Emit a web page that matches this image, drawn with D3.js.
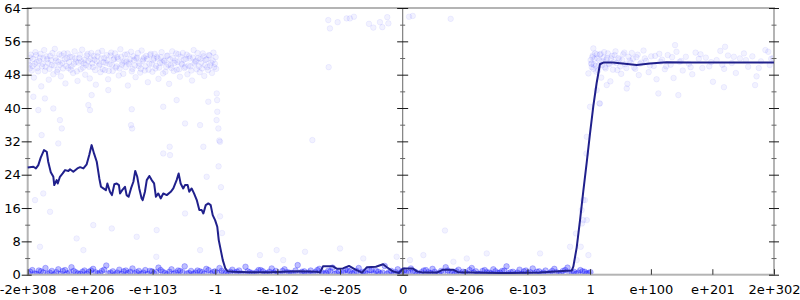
<!DOCTYPE html>
<html>
<head>
<meta charset="utf-8">
<script src="https://cdn.jsdelivr.net/npm/d3@7/dist/d3.min.js"></script>
<style>
  body { margin: 0; background: #fff; }
  svg { display: block; }
</style>
</head>
<body>
<svg id="chart" width="800" height="300"></svg>
<script>
// x values are signed biased exponents (float bit pattern position), y values are the cost
const xExtent = [-Number.MAX_VALUE, 2e302];
const xTickValues = [-Number.MAX_VALUE, -1e206, -1e103, -1, -1e-102, -1e-205, 0, 1e-206, 1e-103, 1, 1e100, 1e201, 2e302];
const xTickLabels = ['-2e+308', '-e+206', '-e+103', '-1', '-e-102', '-e-205', '0', 'e-206', 'e-103', '1', 'e+100', 'e+201', '2e+302'];
const yTickValues = [0, 8, 16, 24, 32, 40, 48, 56, 64];
const yMinorValues = [4, 12, 20, 28, 36, 44, 52, 60];

// running mean
const meanLine = [
    [-2047,25.7],[-2016,25.9],[-2002,25.5],[-1989,26.3],[-1976,28.1],[-1958,29.9],[-1943,29.5],[-1935,27.1],
    [-1921,24.6],[-1907,23.5],[-1902,21.5],[-1889,22.7],[-1883,21.9],[-1871,23.5],[-1856,24.3],[-1843,25.1],
    [-1825,24.9],[-1816,25.3],[-1798,24.7],[-1776,25.5],[-1761,25.8],[-1743,25.5],[-1725,26.5],[-1711,28.7],
    [-1698,31.1],[-1685,29.1],[-1670,27.1],[-1656,23.1],[-1647,21.1],[-1634,20.7],[-1620,20.3],[-1612,21.9],
    [-1598,19.9],[-1587,19.1],[-1574,21.7],[-1561,21.9],[-1549,21.5],[-1543,19.5],[-1531,20.3],[-1516,21.1],
    [-1507,19.1],[-1496,18.7],[-1483,20.7],[-1470,22.3],[-1460,24.9],[-1449,23.5],[-1438,20.7],[-1425,18.3],
    [-1419,17.9],[-1407,19.9],[-1397,22.7],[-1383,23.7],[-1370,22.7],[-1357,21.9],[-1347,18.7],[-1334,19.5],
    [-1321,18.3],[-1307,19.5],[-1288,19.1],[-1266,19.9],[-1252,20.7],[-1234,22.7],[-1223,24.3],[-1212,21.9],
    [-1198,20.7],[-1188,21.5],[-1174,21.5],[-1165,19.9],[-1152,20.7],[-1139,19.5],[-1124,17.9],[-1110,15.5],
    [-1097,15.5],[-1088,14.7],[-1075,16.7],[-1061,17.1],[-1048,16.7],[-1037,14.3],[-1024,13.1],[-1012,11.5],
    [-1004,8.3],[-993,5.9],[-982,3.5],[-968,1.5],[-955,0.8],[-925,0.7],[-833,0.6],[-724,0.6],[-577,0.8],
    [-468,0.7],[-451,0.5],[-435,2.0],[-380,2.0],[-358,1.4],[-326,1.5],[-293,2.1],[-260,1.3],[-222,0.5],
    [-195,1.8],[-146,1.9],[-107,2.5],[-86,1.8],[-53,0.8],[-20,0.4],[2,1.5],[56,1.5],[78,0.8],[111,0.5],
    [187,0.5],[220,1.2],[275,1.2],[302,0.6],[531,0.4],[750,0.5],[875,0.9],[923,1.0],[932,2.0],[950,6.5],
    [968,13.0],[986,20.0],[1005,27.0],[1023,34.0],[1041,40.5],[1059,46.0],[1077,50.5],[1095,50.9],
    [1148,50.9],[1278,50.3],[1350,50.7],[1441,51.0],[1569,50.9],[1660,50.9],[2027,50.9]
];

// samples: band of slow results for x <= -1
const samplesUpperLeft = [
    [-2044,51.2],[-2036,49.5],[-2030,52.8],[-2021,50.1],[-2013,47.3],[-2005,53.4],[-1998,51.0],[-1990,48.8],
    [-1981,52.1],[-1973,45.2],[-1966,50.6],[-1957,53.9],[-1949,49.9],[-1940,51.7],[-1932,46.8],[-1925,52.5],
    [-1916,50.3],[-1907,48.1],[-1899,54.2],[-1891,51.4],[-1883,49.2],[-1874,52.9],[-1866,47.6],[-1858,50.8],
    [-1849,53.1],[-1841,45.9],[-1833,51.9],[-1825,49.6],[-1816,52.3],[-1808,50.0],[-1799,48.4],[-1791,53.6],
    [-1783,51.1],[-1775,46.5],[-1766,52.0],[-1758,49.3],[-1750,54.0],[-1741,50.7],[-1733,48.0],[-1725,52.6],
    [-1716,51.3],[-1708,47.1],[-1700,53.2],[-1691,49.8],[-1683,51.6],[-1675,45.6],[-1666,52.4],[-1658,50.2],
    [-1650,48.6],[-1641,53.7],[-1633,51.0],[-1625,49.1],[-1616,52.7],[-1608,46.9],[-1600,50.5],[-1591,53.3],
    [-1583,48.9],[-1575,51.8],[-1566,49.7],[-1558,52.2],[-1550,47.8],[-1541,54.1],[-1533,50.4],[-1525,48.2],
    [-1516,52.8],[-1508,51.2],[-1500,45.4],[-1491,50.9],[-1483,53.5],[-1475,49.4],[-1466,51.5],[-1458,47.4],
    [-1450,52.1],[-1441,50.1],[-1433,48.5],[-1425,53.8],[-1416,51.7],[-1408,49.0],[-1400,52.5],[-1391,46.2],
    [-1383,50.6],[-1375,53.0],[-1366,48.7],[-1358,51.9],[-1350,49.5],[-1341,52.3],[-1333,47.0],[-1325,50.8],
    [-1316,53.4],[-1308,48.3],[-1300,51.3],[-1291,49.9],[-1283,52.6],[-1275,45.8],[-1266,50.3],[-1258,53.6],
    [-1250,48.9],[-1241,51.4],[-1233,49.2],[-1225,52.9],[-1216,47.5],[-1208,50.7],[-1200,53.2],[-1191,49.6],
    [-1183,51.8],[-1175,48.1],[-1166,52.4],[-1158,50.0],[-1150,46.6],[-1141,53.9],[-1133,51.1],[-1125,49.3],
    [-1116,52.0],[-1108,48.6],[-1100,50.9],[-1091,53.1],[-1083,47.7],[-1075,51.6],[-1066,49.8],[-1058,52.7],
    [-1050,50.2],[-1041,48.4],[-1033,53.3],[-1025,50.6],[-1018,49.4],
    [-2040,50.4],[-2032,52.1],[-2025,49.0],[-2017,51.8],[-2009,50.6],[-2001,52.7],[-1994,49.6],[-1985,51.3],
    [-1977,53.0],[-1969,50.0],[-1961,51.9],[-1953,48.9],[-1945,52.4],[-1936,50.8],[-1928,49.4],[-1920,51.5],
    [-1912,53.2],[-1903,50.2],[-1895,52.0],[-1887,48.7],[-1879,51.1],[-1870,50.4],[-1862,52.6],[-1854,49.5],
    [-1845,51.7],[-1837,50.1],[-1829,53.1],[-1821,51.0],[-1812,49.2],[-1804,52.2],[-1795,50.6],[-1787,51.9],
    [-1779,48.8],[-1770,50.9],[-1762,52.8],[-1754,51.2],[-1745,49.7],[-1737,51.6],[-1729,50.3],[-1720,53.0],
    [-1712,49.9],[-1704,51.8],[-1695,50.7],[-1687,52.5],[-1679,49.1],[-1670,51.2],[-1662,53.3],[-1654,50.5],
    [-1645,51.9],[-1637,49.3],[-1629,52.0],[-1620,50.8],[-1612,51.4],[-1604,48.9],[-1595,52.6],[-1587,50.3],
    [-1579,51.6],[-1570,53.1],[-1562,50.0],[-1554,51.8],[-1545,49.5],[-1537,52.3],[-1529,50.9],[-1520,51.2],
    [-1512,49.8],[-1504,52.9],[-1495,50.5],[-1487,51.7],[-1479,48.8],[-1470,52.4],[-1462,50.2],[-1454,51.9],
    [-1445,53.2],[-1437,50.7],[-1429,49.4],[-1420,51.3],[-1412,52.1],[-1404,50.0],[-1395,51.8],[-1387,49.2],
    [-1379,52.7],[-1370,50.6],[-1362,51.5],[-1354,53.0],[-1345,50.1],[-1337,51.9],[-1329,49.7],[-1320,52.2],
    [-1312,50.9],[-1304,51.4],[-1295,48.7],[-1287,52.5],[-1279,50.4],[-1270,51.7],[-1262,49.6],[-1254,52.0],
    [-1245,50.8],[-1237,53.1],[-1229,51.0],[-1220,49.3],[-1212,52.3],[-1204,50.5],[-1195,51.6],[-1187,49.9],
    [-1179,52.8],[-1170,50.2],[-1162,51.9],[-1154,49.0],[-1145,52.1],[-1137,50.7],[-1129,51.3],[-1120,53.2],
    [-1112,50.0],[-1104,51.8],[-1095,49.5],[-1087,52.4],[-1079,50.3],[-1070,51.7],[-1062,49.1],[-1054,52.6],
    [-1045,50.9],[-1037,51.4],[-1029,49.8],[-1021,52.2]
];

// samples: band of slow results for x >= 1
const samplesUpperRight = [
    [1026,51.5],[1032,49.8],[1038,52.6],[1044,50.4],[1050,53.1],[1057,48.7],[1063,51.9],[1070,50.2],
    [1077,52.8],[1084,47.3],[1092,51.2],[1100,53.4],[1108,49.5],[1116,52.0],[1125,50.7],[1134,46.4],
    [1143,52.5],[1152,51.0],[1162,53.6],[1172,49.1],[1182,51.7],[1193,48.2],[1204,52.9],[1215,50.5],
    [1227,45.8],[1239,51.4],[1251,53.2],[1263,49.7],[1276,52.2],[1289,47.9],[1302,50.9],[1315,53.8],
    [1329,51.3],[1343,48.6],[1357,52.4],[1371,50.1],[1386,46.9],[1401,53.0],[1416,51.6],[1431,49.3],
    [1447,52.7],[1463,50.4],[1479,47.2],[1495,53.5],[1512,51.1],[1529,49.0],[1546,52.3],[1563,50.6],
    [1581,48.1],[1599,53.3],[1617,51.8],[1636,49.6],[1655,52.1],[1674,50.0],[1694,46.3],[1714,51.5],
    [1734,53.7],[1755,49.4],[1776,52.6],[1797,50.8],[1819,48.4],[1841,51.9],[1863,53.1],[1886,49.9],
    [1909,52.4],[1932,47.6],[1956,51.2],[1980,53.9],[2004,50.3],[2022,52.0],
    [1029,50.6],[1035,52.2],[1041,49.4],[1047,51.8],[1054,50.1],[1060,52.9],[1067,49.0],[1074,51.4],
    [1081,53.0],[1088,50.3],[1096,52.1],[1104,49.8],[1112,51.6],[1120,53.1],[1129,50.5],[1138,51.9],
    [1148,49.2],[1157,52.7],[1167,50.8],[1177,52.0],[1188,50.0],[1199,51.5],[1210,53.3],[1221,49.6],
    [1233,52.3],[1245,50.9],[1257,51.8],[1270,49.4],[1283,52.8],[1296,50.6],[1322,51.9],[1350,50.2],
    [1378,52.5],[1408,51.1],[1439,50.0],[1471,52.2],[1520,51.3],[1572,49.8],[1626,52.9],[1684,51.0],
    [1745,50.4],[1808,52.3],[1874,51.5],[1944,49.6],[2012,51.8],
    [1396,43.5],[1505,43.1],[1754,45.0],[1924,45.5],[1223,44.7],[1114,45.5],[1077,41.1],[1760,54.7],
    [1996,53.5],[1487,55.1]
];

// samples: fast results near zero cost
const samplesFloor = [
    [-2045,0.4],[-2022,1.1],[-1998,0.2],[-1975,0.8],[-1950,1.6],[-1927,0.5],[-1903,0.1],[-1880,1.3],
    [-1855,0.9],[-1832,0.3],[-1808,1.8],[-1785,0.6],[-1760,0.2],[-1737,1.0],[-1713,0.7],[-1690,1.4],
    [-1665,0.3],[-1642,0.9],[-1618,2.2],[-1595,0.5],[-1570,0.1],[-1547,1.2],[-1523,0.8],[-1500,0.4],
    [-1475,1.5],[-1452,0.6],[-1428,0.2],[-1405,1.1],[-1380,0.9],[-1357,0.3],[-1333,1.7],[-1310,0.7],
    [-1285,0.1],[-1262,1.3],[-1238,0.5],[-1215,0.9],[-1190,2.0],[-1167,0.4],[-1143,0.2],[-1120,1.0],
    [-1095,0.6],[-1072,1.4],[-1048,0.3],[-1025,0.8],[-1000,1.6],[-977,0.5],[-953,0.1],[-930,1.2],
    [-905,0.7],[-882,0.3],[-858,1.9],[-835,0.6],[-810,0.2],[-787,1.1],[-763,0.8],[-740,0.4],
    [-715,1.5],[-692,0.9],[-668,0.1],[-645,1.3],[-620,0.5],[-597,0.3],[-573,2.3],[-550,0.7],
    [-525,0.2],[-502,1.0],[-478,0.6],[-455,1.4],[-430,0.3],[-407,0.9],[-383,1.7],[-360,0.4],
    [-335,0.1],[-312,1.2],[-288,0.8],[-265,0.5],[-240,1.6],[-217,0.7],[-193,0.2],[-170,1.1],
    [-145,0.9],[-122,0.3],[-98,2.1],[-75,0.6],[-50,0.1],[-27,1.3],[-3,0.8],[20,0.4],
    [45,1.5],[68,0.7],[92,0.2],[115,1.0],[140,0.6],[163,1.4],[187,0.3],[210,0.9],
    [235,1.8],[258,0.5],[282,0.1],[305,1.2],[330,0.7],[353,0.3],[377,1.6],[400,0.8],
    [425,0.2],[448,1.1],[472,0.5],[495,1.3],[520,0.4],[543,0.9],[567,2.0],[590,0.6],
    [615,0.1],[638,1.2],[662,0.8],[685,0.4],[710,1.5],[733,0.7],[757,0.2],[780,1.0],
    [805,0.5],[828,1.4],[852,0.3],[875,0.9],[900,1.7],[923,0.6],[947,0.2],[970,1.1],
    [994,0.7],[1015,0.4],
    [-2034,0.7],[-2010,0.3],[-1986,1.0],[-1962,0.5],[-1939,0.2],[-1915,0.9],[-1891,0.6],[-1867,0.2],
    [-1843,1.1],[-1820,0.5],[-1796,0.9],[-1772,0.3],[-1748,0.7],[-1725,0.2],[-1701,1.0],[-1677,0.6],
    [-1653,0.4],[-1630,1.2],[-1606,0.3],[-1582,0.8],[-1558,0.5],[-1535,0.2],[-1511,1.0],[-1487,0.7],
    [-1463,0.3],[-1440,0.9],[-1416,0.5],[-1392,0.2],[-1368,0.8],[-1345,0.6],[-1321,1.1],[-1297,0.4],
    [-1273,0.7],[-1250,0.2],[-1226,1.0],[-1202,0.6],[-1178,0.3],[-1155,0.9],[-1131,0.5],[-1107,0.8],
    [-1083,0.2],[-1060,1.1],[-1036,0.6],[-1012,0.4],[-988,0.9],[-965,0.3],[-941,0.7],[-917,0.5],
    [-893,1.0],[-870,0.2],[-846,0.8],[-822,0.4],[-798,0.6],[-775,1.1],[-751,0.3],[-727,0.7],
    [-703,0.5],[-680,0.2],[-656,0.9],[-632,0.6],[-608,0.4],[-585,1.0],[-561,0.3],[-537,0.8],
    [-513,0.5],[-490,0.2],[-466,1.1],[-442,0.6],[-418,0.4],[-395,0.8],[-371,0.2],[-347,0.7],
    [-323,0.5],[-300,1.0],[-276,0.3],[-252,0.9],[-228,0.4],[-205,0.6],[-181,1.1],[-157,0.3],
    [-133,0.7],[-110,0.5],[-86,0.2],[-62,0.9],[-38,0.6],[-15,0.3],[8,1.0],[32,0.5],
    [56,0.8],[80,0.3],[103,0.6],[127,1.1],[151,0.4],[175,0.7],[198,0.2],[222,0.6],
    [246,1.0],[270,0.4],[293,0.8],[317,0.3],[341,0.6],[365,1.1],[388,0.5],[412,0.2],
    [436,0.9],[460,0.6],[483,0.3],[507,0.8],[531,0.5],[555,1.0],[578,0.3],[602,0.7],
    [626,0.5],[650,0.2],[673,1.0],[697,0.6],[721,0.3],[745,0.8],[768,0.5],[792,0.2],
    [816,0.9],[840,0.6],[863,0.4],[887,1.1],[911,0.3],[935,0.7],[958,0.5],[982,0.8],
    [1004,0.3],[1025,0.6]
];

// samples: scattered results in between
const samplesStray = [
    [-1880,31.5],[-1962,19.5],[-2007,17.9],[-1925,15.1],[-1689,11.9],[-1780,8.7],[-1588,11.1],[-1343,10.7],
    [-1452,9.1],[-1270,28.7],[-1307,29.1],[-1070,23.5],[-1188,14.7],[-1106,5.9],[-1345,4.3],[-1743,5.9],
    [-1980,6.7],[-2016,42.7],[-1953,42.3],[-1907,39.9],[-1989,39.5],[-1871,37.1],[-1861,35.1],[-1971,33.5],
    [-1707,39.5],[-1716,40.7],[-1698,43.1],[-1607,44.3],[-1479,39.7],[-1483,35.9],[-1477,35.1],[-1307,40.3],
    [-1234,41.9],[-1188,36.3],[-1106,35.9],[-1061,41.5],[-1015,43.5],[-1013,41.9],[-1012,39.1],[-1016,37.1],
    [-1006,35.1],[-1001,32.2],[-997,31.9],[-1088,30.7],[-1272,30.7],[-997,14.0],[-986,10.0],[-992,21.0],
    [-1005,26.0],
    [-406,61.1],[-355,60.6],[-397,59.1],[-306,61.5],[-288,61.5],[-266,61.9],[-184,60.2],[-160,59.3],
    [-124,60.6],[-111,59.4],[-84,61.8],[-78,60.3],[35,61.9],[55,62.1],[262,61.4],[-404,49.8],[-493,32.3],
    [231,10.6],[459,5.1],[113,4.7],[-342,6.3],[-533,5.5],[-688,5.9],[-779,4.7],[-33,4.3],[40,3.5],
    [350,3.9],[750,5.1],[-215,3.9],[277,3.1],[-652,3.5],
    [986,17.9],[977,15.5],[1005,13.1],[946,9.9],[914,6.7],[1014,4.7],[979,12.3],[1041,54.3],[1032,50.7],
    [1014,48.3],[1059,44.3],[1023,40.3],[1074,41.1],[1005,33.1],[1003,29.1],[995,17.9],[986,13.1],
    [972,6.7],[950,3.5]
];

const pos = v => v === 0 ? 0 : Math.sign(v) * (Math.log2(Math.abs(v)) + 1023);

var bitChart = function () {
    let svg = d3.select('#chart'),
        cs = {
            width: 800,
            height: 300,
            margin: { top: 8, right: 26, bottom: 25.3, left: 27.7 },
            pallette: {
                line: '#20208c',
                dot: '#0000ff',
                frame: '#b4b4b4',
                zero: '#808080',
                tick: '#1a1a1a',
                minor: '#666'
            },
            dot: {
                r: 2.8,
                cloud: { fill: 0.05, stroke: 0.07 },
                floor: { fill: 0.26, stroke: 0.3 }
            },
            font: { family: '"DejaVu Sans", sans-serif', size: 13 },
            x: {}, y: {}
        };

    var _buildScales = cs => {
        cs.x.scale = d3.scaleLinear()
            .domain(xExtent.map(pos))
            .range([cs.margin.left, cs.width - cs.margin.right]);
        cs.y.scale = d3.scaleLinear()
            .domain([0, 64])
            .range([cs.height - cs.margin.bottom, cs.margin.top]);
        return cs;
    }

    var _styleAxis = (g, color) => {
        g.select('.domain').remove();
        g.selectAll('line').attr('stroke', color);
        g.selectAll('text')
            .attr('fill', '#000')
            .style('font-family', cs.font.family)
            .style('font-size', cs.font.size + 'px');
        return g;
    }

    var _drawFrame = cs => {
        let x = cs.x.scale, y = cs.y.scale;
        svg.append('rect')
            .attr('x', x.range()[0]).attr('y', y.range()[1])
            .attr('width', x.range()[1] - x.range()[0])
            .attr('height', y.range()[0] - y.range()[1])
            .attr('fill', 'none')
            .attr('stroke', cs.pallette.frame)
            .attr('stroke-width', 2);
        svg.append('line')
            .attr('x1', x(0)).attr('x2', x(0))
            .attr('y1', y.range()[1]).attr('y2', y.range()[0])
            .attr('stroke', cs.pallette.zero)
            .attr('stroke-width', 1.2);
        return cs;
    }

    var _drawAxis = cs => {
        let x = cs.x.scale, y = cs.y.scale,
            x0 = x.range()[0], x1 = x.range()[1], xm = x(0),
            yb = y.range()[0];

        // left axis with labels
        svg.append('g').attr('transform', 'translate(' + (x0 + 4) + ',0)')
            .call(d3.axisLeft(y).tickValues(yTickValues).tickSize(10).tickPadding(1).tickFormat(d3.format('d')))
            .call(g => _styleAxis(g, cs.pallette.tick));
        svg.append('g').attr('transform', 'translate(' + (x0 + 2.5) + ',0)')
            .call(d3.axisLeft(y).tickValues(yMinorValues).tickSize(5).tickFormat(''))
            .call(g => _styleAxis(g, cs.pallette.minor));

        // zero axis and right axis, ticks only
        [[xm, 5.5], [x1, 5]].forEach(a => {
            svg.append('g').attr('transform', 'translate(' + (a[0] + a[1]) + ',0)')
                .call(d3.axisLeft(y).tickValues(yTickValues).tickSize(a[1] * 2).tickFormat(''))
                .call(g => _styleAxis(g, cs.pallette.tick));
            svg.append('g').attr('transform', 'translate(' + (a[0] + 2.5) + ',0)')
                .call(d3.axisLeft(y).tickValues(yMinorValues).tickSize(5).tickFormat(''))
                .call(g => _styleAxis(g, cs.pallette.minor));
        });

        // bottom axis
        cs.x.axis = d3.axisTop(x).tickValues(xTickValues.map(pos)).tickSize(5.5).tickFormat('');
        svg.append('g').attr('transform', 'translate(0,' + yb + ')')
            .call(cs.x.axis)
            .call(g => _styleAxis(g, '#333'));
        svg.append('g').attr('transform', 'translate(0,' + yb + ')')
            .call(d3.axisBottom(x).tickValues(xTickValues.map(pos)).tickSize(0).tickPadding(10.5)
                .tickFormat((d, i) => xTickLabels[i]))
            .call(g => _styleAxis(g, 'none'));
        return cs;
    }

    var _drawPoints = cs => {
        let x = cs.x.scale, y = cs.y.scale;
        svg.append('clipPath').attr('id', 'plot-clip')
            .append('rect')
            .attr('x', x.range()[0]).attr('y', y.range()[1])
            .attr('width', x.range()[1] - x.range()[0])
            .attr('height', y.range()[0] - y.range()[1]);
        let groups = [
            { data: samplesFloor, style: cs.dot.floor },
            { data: samplesUpperLeft, style: cs.dot.cloud },
            { data: samplesUpperRight, style: cs.dot.cloud },
            { data: samplesStray, style: cs.dot.cloud }
        ];
        let plot = svg.append('g').attr('clip-path', 'url(#plot-clip)');
        groups.forEach(grp => {
            plot.append('g')
                .selectAll('circle')
                .data(grp.data)
                .enter()
                .append('circle')
                .attr('cx', d => x(d[0]))
                .attr('cy', d => y(d[1]))
                .attr('r', cs.dot.r)
                .attr('fill', cs.pallette.dot)
                .attr('fill-opacity', grp.style.fill)
                .attr('stroke', cs.pallette.dot)
                .attr('stroke-opacity', grp.style.stroke)
                .attr('stroke-width', 0.8);
        });
        return cs;
    }

    var _drawLine = cs => {
        let line = d3.line()
            .x(d => cs.x.scale(d[0]))
            .y(d => cs.y.scale(d[1]));
        svg.append('path')
            .datum(meanLine)
            .attr('d', line)
            .attr('fill', 'none')
            .attr('stroke', cs.pallette.line)
            .attr('stroke-width', 2)
            .attr('stroke-linejoin', 'round');
        return cs;
    }

    svg.append('rect').attr('width', cs.width).attr('height', cs.height).attr('fill', '#fff');
    _buildScales(cs);
    _drawPoints(cs);
    _drawFrame(cs);
    _drawLine(cs);
    _drawAxis(cs);
};

bitChart();
</script>
</body>
</html>
